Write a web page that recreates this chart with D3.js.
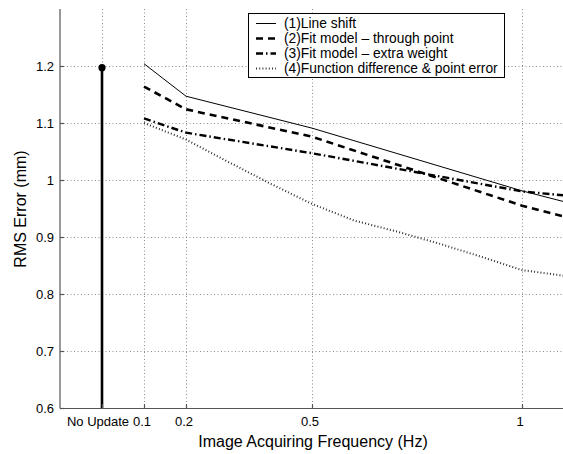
<!DOCTYPE html>
<html><head><meta charset="utf-8">
<script src="https://cdn.jsdelivr.net/npm/d3@7"></script>
<style>body{margin:0;background:#fff}svg{display:block;font-family:"Liberation Sans",Arial,Helvetica,sans-serif}</style>
</head><body><svg id="c" width="563" height="454"></svg>
<script>
// ---- data ----
const freqs = [0.1, 0.2, 0.5, 1.0, 1.1];
const lineShift      = [1.204, 1.147, 1.091, 0.981, 0.962];
const fitThrough     = [1.164, 1.124, 1.076, 0.955, 0.936];
const fitExtraWeight = [1.108, 1.083, 1.047, 0.980, 0.973];
const funcDiffFreqs  = [0.1, 0.2, 0.3, 0.4, 0.5, 0.6, 0.7, 0.8, 0.9, 1.0, 1.1];
const funcDiff       = [1.100, 1.071, 1.032, 0.994, 0.958, 0.929, 0.910, 0.889, 0.866, 0.842, 0.832];
const noUpdateValue = 1.197;
const xTickVals = [0, 0.1, 0.2, 0.5, 1];
const xTickLabels = ["No Update", "0.1", "0.2", "0.5", "1"];
const yTickVals = [0.6, 0.7, 0.8, 0.9, 1, 1.1, 1.2];
const yTickLabels = ["0.6", "0.7", "0.8", "0.9", "1", "1.1", "1.2"];
const legendLabels = ["(1)Line shift", "(2)Fit model \u2013 through point", "(3)Fit model \u2013 extra weight", "(4)Function difference & point error"];

// ---- layout ----
const svg = d3.select("#c");
const L = 60, R = 564, T = 9, B = 408;
const x = d3.scaleLinear().domain([-0.1, 1.1]).range([L, R]);
const y = d3.scaleLinear().domain([0.6, 1.3]).range([B, T]);

svg.append("defs").append("clipPath").attr("id", "clip")
  .append("rect").attr("x", L).attr("y", T).attr("width", R - L).attr("height", B - T);

// grid
const grid = svg.append("g").attr("stroke", "#8c8c8c").attr("stroke-width", 1).attr("stroke-dasharray", "1,2.5");
grid.selectAll(".gx").data(xTickVals).join("line")
  .attr("x1", d => Math.round(x(d)) + 0.5).attr("x2", d => Math.round(x(d)) + 0.5)
  .attr("y1", T).attr("y2", B);
grid.selectAll(".gy").data(yTickVals.filter(v => v > 0.6)).join("line")
  .attr("y1", d => Math.round(y(d)) + 0.5).attr("y2", d => Math.round(y(d)) + 0.5)
  .attr("x1", L).attr("x2", R);

// series
const plot = svg.append("g").attr("clip-path", "url(#clip)");
const mk = (xs, ys) => xs.map((f, i) => [f, ys[i]]);
const lineGen = d3.line().x(d => x(d[0])).y(d => y(d[1]));
const styles = [
  {w: 1, dash: null, c: "#000"},
  {w: 2.6, dash: "7,5", c: "#000"},
  {w: 2.4, dash: "7,3,1.5,3", c: "#000"},
  {w: 2, dash: "1,2.2", c: "#333"}
];
const series = [mk(freqs, lineShift), mk(freqs, fitThrough), mk(freqs, fitExtraWeight), mk(funcDiffFreqs, funcDiff)];
series.forEach((s, i) => {
  plot.append("path").attr("d", lineGen(s)).attr("fill", "none").attr("stroke", styles[i].c)
    .attr("stroke-width", styles[i].w).attr("stroke-dasharray", styles[i].dash);
});

// stem
plot.append("line").attr("x1", x(0)).attr("x2", x(0)).attr("y1", y(0.6)).attr("y2", y(noUpdateValue))
  .attr("stroke", "#000").attr("stroke-width", 2.6);
plot.append("circle").attr("cx", x(0)).attr("cy", y(noUpdateValue)).attr("r", 3.6).attr("fill", "#000");

// axes
const ax = svg.append("g").attr("stroke", "#555").attr("stroke-width", 1.2);
ax.append("line").attr("x1", L).attr("x2", L).attr("y1", T).attr("y2", B + 0.5);
ax.append("line").attr("x1", L).attr("x2", R).attr("y1", B + 0.5).attr("y2", B + 0.5);
ax.selectAll(".tx").data(xTickVals).join("line")
  .attr("x1", d => Math.round(x(d)) + 0.5).attr("x2", d => Math.round(x(d)) + 0.5)
  .attr("y1", B).attr("y2", B - 4);
ax.selectAll(".ty").data(yTickVals).join("line")
  .attr("y1", d => Math.round(y(d)) + 0.5).attr("y2", d => Math.round(y(d)) + 0.5)
  .attr("x1", L).attr("x2", L + 4);

// tick labels
svg.selectAll(".xl").data(xTickVals).join("text")
  .attr("x", (d, i) => x(d) + (i === 0 ? -4 : -2)).attr("y", 426)
  .attr("text-anchor", "middle").attr("font-size", 13).attr("fill", "#000")
  .text((d, i) => xTickLabels[i]);
svg.selectAll(".yl").data(yTickVals).join("text")
  .attr("x", 54).attr("y", d => y(d)).attr("dy", "0.35em")
  .attr("text-anchor", "end").attr("font-size", 13).attr("fill", "#000")
  .text((d, i) => yTickLabels[i]);

// axis titles
svg.append("text").attr("x", 313).attr("y", 447).attr("text-anchor", "middle")
  .attr("font-size", 16).text("Image Acquiring Frequency (Hz)");
svg.append("text").attr("transform", "translate(26,209) rotate(-90)").attr("text-anchor", "middle")
  .attr("font-size", 16).text("RMS Error (mm)");

// legend
const lg = svg.append("g");
lg.append("rect").attr("x", 248.5).attr("y", 13.5).attr("width", 256).attr("height", 64)
  .attr("fill", "#fff").attr("stroke", "#000").attr("stroke-width", 1);
legendLabels.forEach((lab, i) => {
  const yy = 23.5 + i * 15;
  lg.append("line").attr("x1", 256).attr("x2", 276).attr("y1", yy).attr("y2", yy)
    .attr("stroke", styles[i].c).attr("stroke-width", styles[i].w).attr("stroke-dasharray", styles[i].dash);
  lg.append("text").attr("x", 284).attr("y", yy).attr("dy", "0.35em").attr("font-size", 13.8).text(lab);
});
</script></body></html>
